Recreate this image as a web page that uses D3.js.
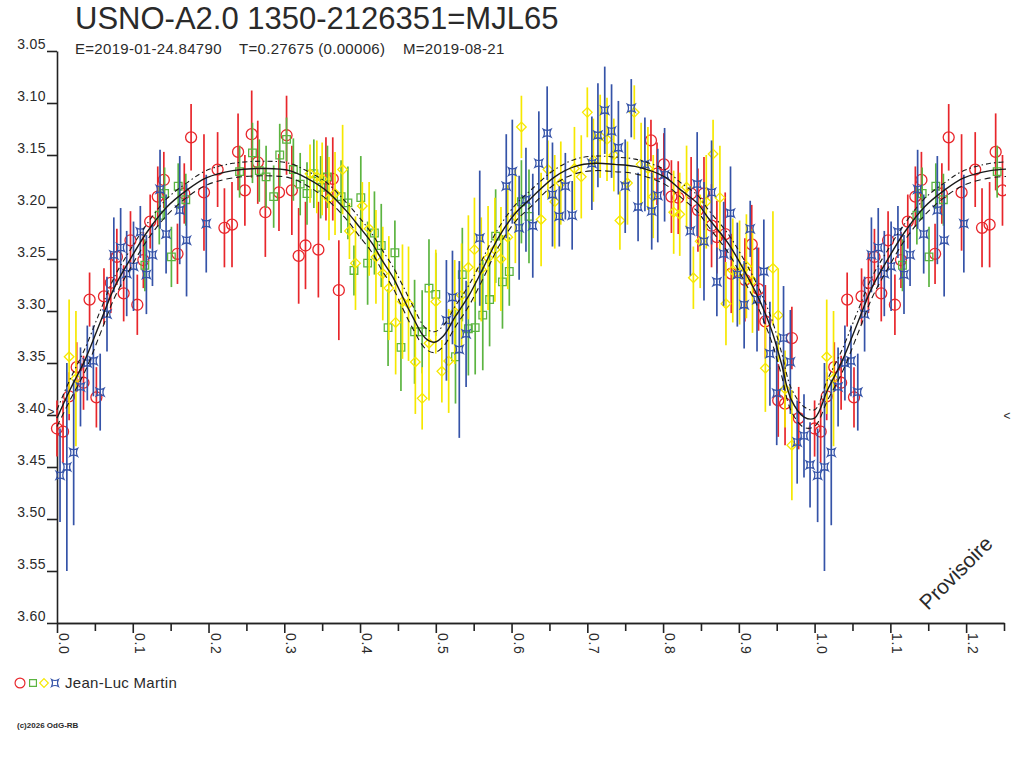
<!DOCTYPE html>
<html>
<head>
<meta charset="utf-8">
<script src="https://cdn.jsdelivr.net/npm/d3@7"></script>
<style>
body { margin: 0; background: #fff; }
text { font-family: "Liberation Sans", Arial, sans-serif; fill: #2a2a2a; }
</style>
</head>
<body>
<script>
const title = 'USNO-A2.0 1350-2126351=MJL65';
const subtitle = ['E=2019-01-24.84790', 'T=0.27675 (0.00006)', 'M=2019-08-21'];
const observer = 'Jean-Luc Martin';
const credit = '(c)2026 OdG-RB';
const stamp = 'Provisoire';
const magTicks = [3.05, 3.10, 3.15, 3.20, 3.25, 3.30, 3.35, 3.40, 3.45, 3.50, 3.55, 3.60];
const phaseTicks = [0, 0.1, 0.2, 0.3, 0.4, 0.5, 0.6, 0.7, 0.8, 0.9, 1.0, 1.1, 1.2];
const phaseMinorTicks = [0.05, 0.15, 0.25, 0.35, 0.45, 0.55, 0.65, 0.75, 0.85, 0.95, 1.05, 1.15, 1.25];
const minLevel = 3.397;

// [phase, magnitude, error]
const redPts = [
    [0.000,3.413,0.027],[0.008,3.416,0.030],[0.016,3.382,0.023],[0.026,3.354,0.024],[0.035,3.369,0.026],
    [0.043,3.289,0.026],[0.052,3.383,0.029],[0.062,3.286,0.027],[0.071,3.273,0.029],[0.079,3.248,0.027],
    [0.088,3.283,0.027],[0.097,3.232,0.028],[0.106,3.294,0.029],[0.114,3.251,0.027],[0.123,3.214,0.026],
    [0.133,3.190,0.029],[0.141,3.174,0.027],[0.159,3.245,0.029],[0.168,3.187,0.029],[0.177,3.133,0.032],
    [0.194,3.186,0.056],[0.212,3.164,0.036],[0.221,3.220,0.038],[0.231,3.217,0.041],[0.239,3.147,0.037],
    [0.248,3.184,0.034],[0.257,3.130,0.042],[0.265,3.157,0.040],[0.275,3.205,0.043],[0.293,3.186,0.037],
    [0.303,3.131,0.038],[0.310,3.184,0.043],[0.319,3.247,0.046],[0.328,3.237,0.042],[0.345,3.241,0.046],
    [0.355,3.173,0.040],[0.364,3.173,0.040],[0.372,3.280,0.048],
    [0.784,3.136,0.020],[0.792,3.168,0.030],[0.801,3.159,0.030],[0.811,3.190,0.035],[0.820,3.191,0.035],
    [0.837,3.187,0.035],[0.846,3.203,0.040],[0.854,3.187,0.035],[0.864,3.218,0.040],[0.871,3.229,0.035],
    [0.882,3.226,0.040],[0.890,3.264,0.038],[0.908,3.270,0.040],[0.917,3.236,0.038],[0.926,3.279,0.040],
    [0.935,3.310,0.035],[0.952,3.386,0.035],[0.961,3.389,0.040],[0.970,3.326,0.030],[0.979,3.403,0.030]
];

const greenPts = [
    [0.116,3.256,0.025],[0.135,3.208,0.028],[0.142,3.187,0.025],[0.151,3.248,0.029],[0.160,3.180,0.022],
    [0.170,3.193,0.025],[0.241,3.166,0.025],[0.258,3.148,0.029],[0.267,3.165,0.030],[0.276,3.171,0.030],
    [0.286,3.190,0.030],[0.294,3.150,0.030],[0.303,3.135,0.021],[0.312,3.164,0.030],[0.321,3.178,0.030],
    [0.330,3.187,0.030],[0.339,3.168,0.033],[0.348,3.181,0.030],[0.357,3.171,0.030],[0.375,3.190,0.035],
    [0.384,3.196,0.035],[0.392,3.261,0.024],[0.401,3.191,0.040],[0.410,3.254,0.040],[0.419,3.225,0.040],
    [0.428,3.237,0.040],[0.437,3.316,0.037],[0.446,3.244,0.031],[0.454,3.335,0.042],[0.472,3.320,0.050],
    [0.482,3.320,0.040],[0.491,3.278,0.047],[0.500,3.284,0.040],[0.526,3.344,0.045],[0.535,3.265,0.045],
    [0.543,3.317,0.045],[0.552,3.316,0.045],[0.562,3.304,0.053],[0.571,3.289,0.045],[0.579,3.228,0.045],
    [0.588,3.272,0.045],[0.597,3.262,0.033],[0.613,3.195,0.040],[0.623,3.209,0.045]
];

const yellowPts = [
    [0.016,3.344,0.055],[0.025,3.365,0.065],[0.334,3.168,0.028],[0.343,3.171,0.035],[0.350,3.173,0.035],
    [0.359,3.192,0.040],[0.367,3.187,0.040],[0.377,3.164,0.043],[0.386,3.223,0.027],[0.394,3.254,0.045],
    [0.403,3.199,0.023],[0.412,3.221,0.045],[0.421,3.248,0.045],[0.430,3.264,0.045],[0.438,3.278,0.050],
    [0.447,3.311,0.050],[0.456,3.291,0.055],[0.464,3.293,0.055],[0.473,3.349,0.050],[0.482,3.384,0.030],
    [0.491,3.331,0.055],[0.500,3.291,0.050],[0.508,3.358,0.030],[0.517,3.348,0.050],[0.525,3.301,0.050],
    [0.534,3.285,0.050],[0.543,3.258,0.050],[0.551,3.241,0.050],[0.560,3.260,0.050],[0.569,3.249,0.050],
    [0.578,3.241,0.050],[0.586,3.250,0.050],[0.595,3.229,0.050],[0.605,3.209,0.045],[0.613,3.123,0.030],
    [0.639,3.212,0.045],[0.648,3.164,0.028],[0.657,3.195,0.045],[0.665,3.177,0.040],[0.683,3.163,0.040],
    [0.692,3.171,0.040],[0.700,3.109,0.024],[0.708,3.155,0.040],[0.717,3.132,0.040],[0.726,3.135,0.040],
    [0.735,3.150,0.035],[0.743,3.213,0.028],[0.753,3.177,0.040],[0.762,3.109,0.026],[0.771,3.159,0.040],
    [0.780,3.163,0.040],[0.787,3.190,0.040],[0.814,3.205,0.040],[0.822,3.207,0.040],[0.831,3.181,0.040],
    [0.840,3.268,0.030],[0.849,3.233,0.045],[0.857,3.195,0.045],[0.866,3.149,0.033],[0.875,3.191,0.050],
    [0.883,3.293,0.040],[0.892,3.261,0.050],[0.901,3.263,0.050],[0.910,3.257,0.050],[0.918,3.271,0.050],
    [0.935,3.355,0.042],[0.945,3.259,0.055],[0.952,3.304,0.045],[0.961,3.375,0.037],[0.970,3.429,0.053]
];

const bluePts = [
    [0.004,3.458,0.045],[0.013,3.450,0.100],[0.022,3.436,0.070],[0.031,3.373,0.038],[0.040,3.350,0.036],
    [0.048,3.348,0.034],[0.057,3.378,0.037],[0.066,3.303,0.036],[0.075,3.246,0.036],[0.084,3.239,0.038],
    [0.092,3.264,0.041],[0.101,3.257,0.043],[0.110,3.224,0.025],[0.118,3.265,0.038],[0.126,3.246,0.030],
    [0.136,3.183,0.038],[0.144,3.226,0.038],[0.162,3.203,0.052],[0.171,3.232,0.054],[0.197,3.216,0.047],
    [0.514,3.309,0.058],[0.522,3.287,0.045],[0.531,3.337,0.085],[0.540,3.322,0.051],[0.558,3.230,0.065],
    [0.593,3.180,0.050],[0.601,3.166,0.050],[0.610,3.220,0.050],[0.619,3.193,0.050],[0.628,3.218,0.050],
    [0.636,3.158,0.050],[0.647,3.129,0.045],[0.654,3.188,0.050],[0.663,3.209,0.029],[0.671,3.180,0.032],
    [0.680,3.208,0.033],[0.706,3.158,0.045],[0.714,3.131,0.050],[0.723,3.107,0.042],[0.732,3.127,0.045],
    [0.741,3.143,0.045],[0.750,3.180,0.045],[0.758,3.105,0.028],[0.767,3.200,0.033],[0.776,3.159,0.045],
    [0.785,3.204,0.037],[0.793,3.189,0.045],[0.802,3.169,0.045],[0.836,3.223,0.043],[0.845,3.178,0.050],
    [0.854,3.233,0.057],[0.864,3.186,0.050],[0.871,3.272,0.033],[0.880,3.245,0.050],[0.889,3.206,0.045],
    [0.898,3.265,0.050],[0.907,3.294,0.042],[0.915,3.221,0.027],[0.924,3.289,0.050],[0.933,3.262,0.050],
    [0.941,3.341,0.050],[0.950,3.379,0.050],[0.959,3.326,0.050],[0.968,3.349,0.050],[0.977,3.426,0.040],
    [0.986,3.420,0.040],[0.994,3.448,0.041]
];

// mean light curve [phase, magnitude] and its half band
const fitCurve = [
    [0.000,3.403],[0.017,3.376],[0.037,3.347],[0.057,3.311],[0.076,3.277],[0.096,3.251],[0.118,3.225],
    [0.145,3.200],[0.171,3.184],[0.197,3.172],[0.232,3.165],[0.276,3.163],[0.307,3.165],[0.329,3.172],
    [0.355,3.184],[0.381,3.203],[0.399,3.219],[0.416,3.235],[0.429,3.251],[0.443,3.267],[0.456,3.286],
    [0.469,3.305],[0.486,3.326],[0.498,3.330],[0.510,3.324],[0.526,3.305],[0.543,3.286],[0.561,3.261],
    [0.583,3.229],[0.605,3.206],[0.625,3.192],[0.657,3.171],[0.684,3.161],[0.710,3.158],[0.736,3.159],
    [0.763,3.161],[0.802,3.171],[0.824,3.184],[0.846,3.197],[0.859,3.210],[0.886,3.235],[0.907,3.261],
    [0.925,3.286],[0.943,3.318],[0.956,3.350],[0.969,3.385],[0.986,3.402],[1.000,3.403]
];
const fitBand = [
    0.008,0.010,0.011,0.011,0.010,0.009,0.008,0.008,0.007,0.007,0.007,0.007,0.007,0.007,
    0.008,0.008,0.009,0.009,0.010,0.010,0.011,0.011,0.010,0.010,0.010,0.010,0.010,0.010,
    0.009,0.008,0.008,0.007,0.007,0.007,0.007,0.007,0.007,0.007,0.008,0.008,0.009,0.010,
    0.010,0.011,0.011,0.011,0.010,0.008
];

const shapes = {
    circle: 'M-5.5,0A5.5,5.5 0 1,0 5.5,0A5.5,5.5 0 1,0 -5.5,0Z',
    square: 'M-3.8,-3.8H3.8V3.8H-3.8Z',
    diamond: 'M0,-4.8L4.8,0L0,4.8L-4.8,0Z',
    star: 'M-3.8,-3.8Q0,-1.7 3.8,-3.8Q1.7,0 3.8,3.8Q0,1.7 -3.8,3.8Q-1.7,0 -3.8,-3.8Z'
};

const series = [
    {pts: redPts, color: '#e8262b', shape: 'circle'},
    {pts: greenPts, color: '#5bb440', shape: 'square'},
    {pts: yellowPts, color: '#f6e800', shape: 'diamond'},
    {pts: bluePts, color: '#3553a8', shape: 'star'}
];

const maxPhase = 1.25;

// folded data: phases below 0.25 shown again one cycle later
function unfold(pts) {
    return pts.concat(pts.filter(d => d[0] + 1 <= maxPhase).map(d => [d[0] + 1, d[1], d[2]]));
}

function makeChart(svg) {
    const scX = d3.scaleLinear().domain([0, maxPhase]).range([57, 1004]);
    const scY = d3.scaleLinear().domain([3.05, 3.60]).range([51, 623]);

    svg.append('text')
        .attr('x', 75).attr('y', 29)
        .attr('font-size', 31)
        .text(title);

    const subX = [75, 239, 403];
    subtitle.forEach((s, i) => {
        svg.append('text')
            .attr('x', subX[i]).attr('y', 54)
            .attr('font-size', 15)
            .attr('letter-spacing', 0.3)
            .text(s);
    });

    svg.append('defs').append('clipPath').attr('id', 'plot')
        .append('rect').attr('x', 30).attr('y', 51).attr('width', 976).attr('height', 572);

    // axes
    const yAxis = svg.append('g')
        .attr('transform', 'translate(57,0)')
        .call(d3.axisLeft(scY).tickValues(magTicks).tickSize(10).tickSizeOuter(0).tickFormat(d3.format('.2f')));
    yAxis.selectAll('text')
        .attr('x', -11).attr('dy', '-0.15em')
        .attr('font-size', 14).attr('letter-spacing', 0.4);

    const xMinor = svg.append('g')
        .attr('transform', 'translate(0,623)')
        .call(d3.axisBottom(scX).tickValues(phaseMinorTicks).tickSize(8).tickSizeOuter(0).tickFormat(''));
    const xAxis = svg.append('g')
        .attr('transform', 'translate(0,623)')
        .call(d3.axisBottom(scX).tickValues(phaseTicks).tickSize(10).tickSizeOuter(0).tickFormat(d3.format('.1f')));
    xAxis.selectAll('text')
        .attr('text-anchor', 'start')
        .attr('dy', null)
        .attr('x', 10).attr('y', -1.5)
        .attr('transform', 'rotate(90)')
        .attr('font-size', 14).attr('letter-spacing', 0.6);

    [yAxis, xAxis, xMinor].forEach(a => {
        a.attr('color', '#222');
        a.selectAll('path, line').attr('stroke-width', 1.6);
    });

    // data
    const plot = svg.append('g').attr('clip-path', 'url(#plot)');
    series.forEach(s => {
        const pts = unfold(s.pts);
        const g = plot.append('g');
        g.selectAll('line')
            .data(pts)
            .enter()
            .append('line')
            .attr('x1', d => scX(d[0]))
            .attr('x2', d => scX(d[0]))
            .attr('y1', d => scY(d[1] - d[2]))
            .attr('y2', d => scY(d[1] + d[2]))
            .attr('stroke', s.color)
            .attr('stroke-width', 1.7);
        g.selectAll('path')
            .data(pts)
            .enter()
            .append('path')
            .attr('d', shapes[s.shape])
            .attr('transform', d => `translate(${scX(d[0])},${scY(d[1])})`)
            .attr('fill', 'none')
            .attr('stroke', s.color)
            .attr('stroke-width', 1.3);
    });

    // fitted curve with band
    const fit = fitCurve.map((d, i) => [d[0], d[1], fitBand[i]]);
    const fitAll = fit.concat(fit.filter(d => d[0] > 0 && d[0] < 0.3).map(d => [d[0] + 1, d[1], d[2]]));
    const line = acc => d3.line()
        .x(d => scX(d[0]))
        .y(d => scY(acc(d)))
        .curve(d3.curveCatmullRom);

    plot.append('path')
        .attr('d', line(d => d[1] - d[2])(fitAll))
        .attr('fill', 'none').attr('stroke', '#1a1a1a').attr('stroke-width', 1.1)
        .attr('stroke-dasharray', '5,3,1.5,3');
    plot.append('path')
        .attr('d', line(d => d[1] + d[2])(fitAll))
        .attr('fill', 'none').attr('stroke', '#1a1a1a').attr('stroke-width', 1.1)
        .attr('stroke-dasharray', '6,4');
    plot.append('path')
        .attr('d', line(d => d[1])(fitAll))
        .attr('fill', 'none').attr('stroke', '#1a1a1a').attr('stroke-width', 1.4);

    // minimum level marks
    svg.append('text').attr('x', 51).attr('y', scY(minLevel) + 4)
        .attr('text-anchor', 'middle').attr('font-size', 12).text('>');
    svg.append('text').attr('x', 1007).attr('y', scY(minLevel) + 8)
        .attr('text-anchor', 'middle').attr('font-size', 12).text('<');

    svg.append('text')
        .attr('transform', 'translate(928,611) rotate(-45)')
        .attr('font-size', 21)
        .attr('fill', '#333')
        .text(stamp);

    // legend
    const legendX = [20, 33, 44, 55];
    series.forEach((s, i) => {
        svg.append('path')
            .attr('d', shapes[s.shape])
            .attr('transform', `translate(${legendX[i]},683) scale(0.9)`)
            .attr('fill', 'none')
            .attr('stroke', s.color)
            .attr('stroke-width', 1.3);
    });
    svg.append('text')
        .attr('x', 65).attr('y', 688)
        .attr('font-size', 15).attr('letter-spacing', 0.3)
        .text(observer);

    svg.append('text')
        .attr('x', 17).attr('y', 728)
        .attr('font-size', 8)
        .attr('font-weight', 'bold')
        .text(credit);
}

function main() {
    const svg = d3.select('body')
        .append('svg')
        .attr('width', 1024)
        .attr('height', 768);
    makeChart(svg);
}

main();
</script>
</body>
</html>
